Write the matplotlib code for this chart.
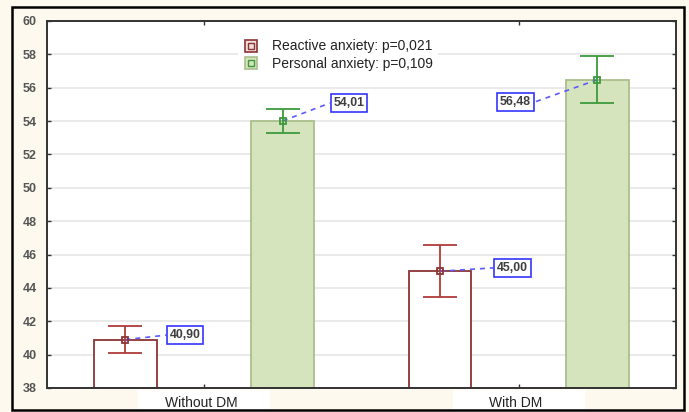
import matplotlib.pyplot as plt
import matplotlib.patches as mpatches
import matplotlib.transforms as mtransforms
from matplotlib.lines import Line2D
import numpy as np

plt.rcParams['font.family'] = ['Liberation Sans', 'DejaVu Sans']

groups = ['Without DM', 'With DM']
reactive_mean = [40.90, 45.00]
reactive_err = [0.80, 1.55]
personal_mean = [54.01, 56.48]
personal_err = [0.70, 1.40]
reactive_labels = ['40,90', '45,00']
personal_labels = ['54,01', '56,48']
# where the value boxes sit (x offset from marker, y value)
reactive_box = [(0.19, 41.17), (0.23, 45.2)]
personal_box = [(0.21, 55.08), (-0.26, 55.14)]
legend_names = ['Reactive anxiety: p=0,021', 'Personal anxiety: p=0,109']

red_edge = '#8b3434'
red_err = '#b03c3c'
green_face = '#d6e4bd'
green_edge = '#a9bf8b'
green_err = '#3c9a3c'
box_blue = '#3535ff'
cream = '#fdf9ee'

fig = plt.figure(figsize=(6.89, 4.12), dpi=100, facecolor=cream)
fig.patches.append(mpatches.Rectangle((12 / 689, 1 - 410 / 412), 672 / 689, 403 / 412,
                                      transform=fig.transFigure, fill=False,
                                      edgecolor='black', linewidth=1.8, zorder=0))
ax = fig.add_axes([46.7 / 689, 1 - 388 / 412, 629.3 / 689, 367 / 412])
ax.set_facecolor('white')

x = np.arange(len(groups))
w = 0.2
off = 0.25

ax.bar(x - off, np.array(reactive_mean) - 38, w, bottom=38, facecolor='white',
       edgecolor=red_edge, linewidth=1.3, zorder=2)
ax.bar(x + off, np.array(personal_mean) - 38, w, bottom=38, facecolor=green_face,
       edgecolor=green_edge, linewidth=1.3, zorder=2)

ax.errorbar(x - off, reactive_mean, yerr=reactive_err, fmt='none', ecolor=red_err,
            elinewidth=1.3, capsize=12, capthick=1.3, zorder=4)
ax.errorbar(x + off, personal_mean, yerr=personal_err, fmt='none', ecolor=green_err,
            elinewidth=1.3, capsize=12, capthick=1.3, zorder=4)
ax.plot(x - off, reactive_mean, 's', ms=5, mfc='none', mec=red_edge, mew=1.3,
        linestyle='none', zorder=5)
ax.plot(x + off, personal_mean, 's', ms=5, mfc='none', mec=green_err, mew=1.3,
        linestyle='none', zorder=5)


def value_box(xm, ym, dx, yb, txt):
    xb = xm + dx
    edge = xb - 0.06 if dx > 0 else xb + 0.06
    ax.plot([xm, edge], [ym, yb], color='#5a5aff', linestyle=(0, (3, 3)),
            linewidth=1.2, zorder=3)
    ax.text(xb, yb, txt, ha='center', va='center', fontsize=8.8, fontweight='bold',
            color='#3f3f3f', zorder=6,
            bbox=dict(boxstyle='square,pad=0.22', facecolor='white',
                      edgecolor=box_blue, linewidth=1.2))


for i in range(len(groups)):
    value_box(x[i] - off, reactive_mean[i], reactive_box[i][0], reactive_box[i][1],
              reactive_labels[i])
    value_box(x[i] + off, personal_mean[i], personal_box[i][0], personal_box[i][1],
              personal_labels[i])

ax.set_xlim(-0.5, 1.5)
ax.set_ylim(38, 60)
ax.set_yticks(np.arange(38, 61, 2))
ax.yaxis.grid(True, color='#e4e4e4', linewidth=1.1, zorder=0)
ax.set_axisbelow(True)
ax.set_xticks(x)
ax.set_xticklabels([])
ax.tick_params(axis='both', direction='in', length=3, width=1, color='#333333',
               top=True, right=True)
ax.tick_params(axis='y', labelsize=9, labelcolor='#555555', pad=7)
for lab in ax.get_yticklabels():
    lab.set_fontweight('bold')
for s in ax.spines.values():
    s.set_color('#333333')
    s.set_linewidth(1.4)

trans = mtransforms.blended_transform_factory(ax.transData, ax.transAxes)
for i, g in enumerate(groups):
    ax.add_patch(mpatches.Rectangle((x[i] - 0.21, -0.065), 0.42, 0.06, transform=trans,
                                    facecolor='white', edgecolor='none',
                                    clip_on=False, zorder=1))
    ax.text(x[i] - 0.01, -0.04, g, transform=trans, ha='center', va='center',
            fontsize=10, color='#222222')

h1 = (Line2D([], [], marker='s', ms=9, mfc='#f3dede', mec=red_edge, mew=1.2, ls='none'),
      Line2D([], [], marker='s', ms=4, mfc='none', mec=red_edge, mew=1.0, ls='none'))
h2 = (Line2D([], [], marker='s', ms=9, mfc=green_face, mec=green_edge, mew=1.2, ls='none'),
      Line2D([], [], marker='s', ms=4, mfc='none', mec=green_err, mew=1.0, ls='none'))
leg = ax.legend([h1, h2], legend_names, loc='upper center', bbox_to_anchor=(0.463, 0.965),
                frameon=True, facecolor='white', edgecolor='none', framealpha=1,
                fontsize=10, handlelength=1.0, handletextpad=1.0, labelspacing=0.25,
                borderpad=0.4, borderaxespad=0)
for t in leg.get_texts():
    t.set_color('#222222')

fig.savefig('out.png', dpi=100, facecolor=cream)
